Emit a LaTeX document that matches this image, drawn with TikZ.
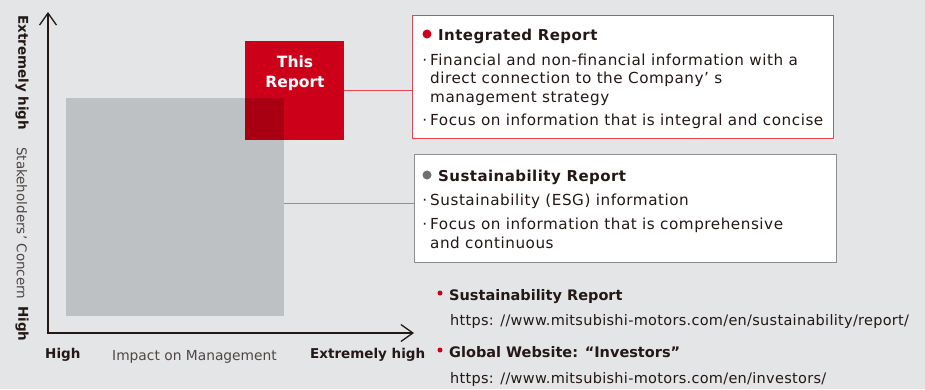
\documentclass[tikz,border=0pt]{standalone}
\usepackage{fontspec}
\setmainfont{DejaVu Sans}
\usetikzlibrary{arrows.meta,positioning}
\definecolor{bg}{HTML}{E4E5E7}
\definecolor{mmred}{HTML}{CC0018}
\definecolor{mmdark}{HTML}{A80012}
\definecolor{sqgray}{HTML}{BEC1C4}
\definecolor{ink}{HTML}{231815}
\definecolor{redline}{HTML}{E64553}
\definecolor{grayline}{HTML}{8C8E91}
\definecolor{dotgray}{HTML}{6E7073}

\begin{document}
\begin{tikzpicture}[x=1pt,y=-1pt,
  >={Straight Barb[length=12pt,width=17pt,line width=1.3pt]},
  body/.style={anchor=base west,inner sep=0,text=ink,font=\fontsize{15.2}{18}\selectfont\addfontfeature{LetterSpace=3.5}},
  urltext/.style={anchor=base west,inner sep=0,text=ink,font=\fontsize{14.5}{18}\selectfont\addfontfeature{LetterSpace=2}},
  head/.style={anchor=base west,inner sep=0,text=ink,font=\fontsize{15}{18}\selectfont\bfseries\addfontfeature{LetterSpace=3}},
  linkhead/.style={anchor=base west,inner sep=0,text=ink,font=\fontsize{14.5}{18}\selectfont\bfseries},
  axislab/.style={inner sep=0,text=ink,font=\fontsize{13.5}{16}\selectfont},
  dot/.style={circle,inner sep=0,minimum size=#1}]
\fill[bg] (0,0) rectangle (925,389);
\useasboundingbox (0,0) rectangle (925,389);
\node[fill=sqgray,inner sep=0,minimum width=218,minimum height=218,anchor=north west] (gsq) at (66,98) {};
\node[fill=mmred,inner sep=0,minimum size=99,anchor=north west] (rsq) at (245,41) {};
\fill[mmdark] (rsq.west |- gsq.north) rectangle (gsq.east |- rsq.south);
\node[text=white,align=center,inner sep=0,font=\fontsize{15.5}{20}\selectfont\bfseries] (thisrep) at (295,73) {This\\Report};
\coordinate (orig) at (48,333);
\coordinate (ytip) at (48,12);
\coordinate (xtip) at (414,333);
\draw[<->,line width=1.3pt,ink] (ytip) -- (orig) -- (xtip);
\node[draw=redline,fill=white,line width=1pt,inner sep=0,minimum width=421,minimum height=123,anchor=north west] (intbox) at (412,15) {};
\node[draw=grayline,fill=white,line width=1pt,inner sep=0,minimum width=422,minimum height=108,anchor=north west] (susbox) at (414,154) {};
\draw[redline,line width=1pt] (rsq.east) -- (rsq.east -| intbox.west);
\draw[grayline,line width=1pt] ([yshift=4pt]gsq.east) -- ([yshift=4pt]gsq.east -| susbox.west);
\node[dot=9,fill=mmred] (intdot) at (427,34) {};
\node[head] (inthead) at (438,40) {Integrated Report};
\node[body] (int1) at (430,65) {\llap{·\hspace{3pt}}Financial and non-financial information with a};
\node[body] (int2) at (430,83) {direct connection to the Company’ s};
\node[body] (int3) at (430,102) {management strategy};
\node[body] (int4) at (430,125) {\llap{·\hspace{3pt}}Focus on information that is integral and concise};
\node[dot=9,fill=dotgray] (susdot) at (427,175) {};
\node[head] (sushead) at (438,181) {Sustainability Report};
\node[body] (sus1) at (430,205) {\llap{·\hspace{3pt}}Sustainability (ESG) information};
\node[body] (sus2) at (430,229) {\llap{·\hspace{3pt}}Focus on information that is comprehensive};
\node[body] (sus3) at (430,248) {and continuous};
\node[dot=5,fill=mmred] (linkdot1) at (440,293) {};
\node[linkhead] (link1) at (449,300) {Sustainability Report};
\node[urltext] (url1) at (450,325) {https: //www.mitsubishi-motors.com/en/sustainability/report/};
\node[dot=5,fill=mmred] (linkdot2) at (440,350) {};
\node[linkhead] (link2) at (449,357) {Global Website: “Investors”};
\node[urltext] (url2) at (450,383) {https: //www.mitsubishi-motors.com/en/investors/};
\node[axislab,anchor=base west,font=\fontsize{13.5}{16}\selectfont\bfseries] (xlow) at (45,358) {High};
\node[axislab,anchor=base west,text=ink!80,font=\fontsize{13.8}{16}\selectfont] (xname) at (112,360) {Impact on Management};
\node[axislab,anchor=base west,font=\fontsize{13.5}{16}\selectfont\bfseries] (xhigh) at (310,358) {Extremely high};
\node[axislab,rotate=-90,anchor=west,font=\fontsize{13.5}{16}\selectfont\bfseries] (yhigh) at (22,15) {Extremely high};
\node[axislab,rotate=-90,anchor=west,text=ink!80] (yname) at (22,147) {Stakeholders’ Concern};
\node[axislab,rotate=-90,anchor=west,font=\fontsize{13.5}{16}\selectfont\bfseries] (ylow) at (22,306) {High};
\end{tikzpicture}
\end{document}
